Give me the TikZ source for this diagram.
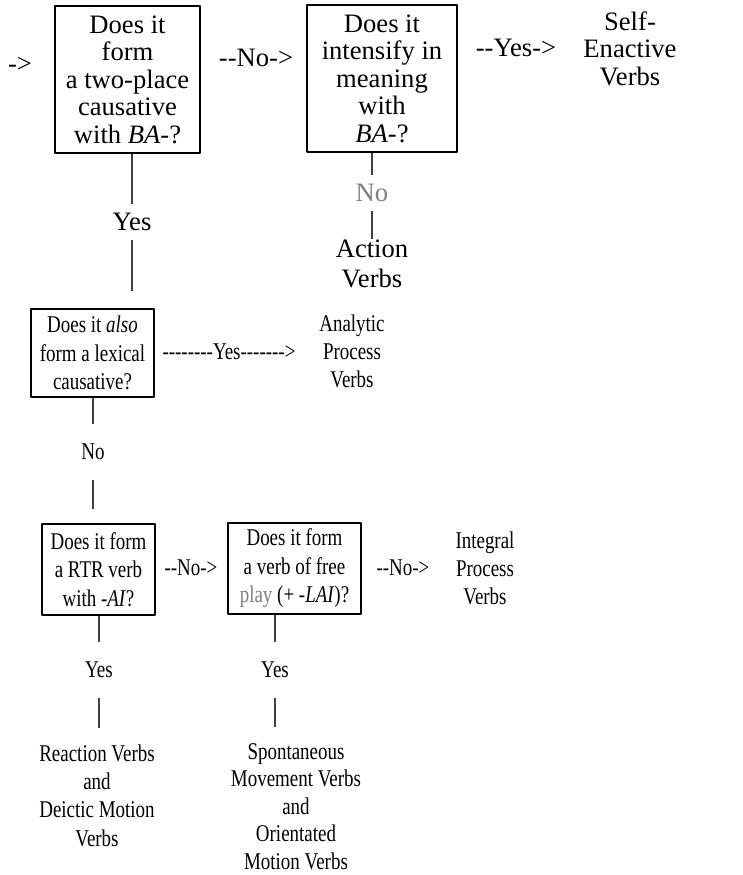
\documentclass[tikz,border=0pt]{standalone}
\usepackage{fontspec}
\setmainfont{Liberation Serif}[Ligatures=TeXOff]
\newfontfamily\narrowserif{Liberation Serif}[Ligatures=TeXOff, FakeStretch=0.79]
\definecolor{fadedgray}{gray}{0.5}
\tikzset{
	topfont/.style={font=\fontsize{13.3}{13.75}\selectfont},
	lowfont/.style={font=\narrowserif\fontsize{12}{14.2}\selectfont},
	qbox/.style={draw, line width=1pt, align=center, inner sep=0pt},
	leaf/.style={align=center, inner sep=0pt, anchor=north},
	conn/.style={draw=black!75, line width=0.6pt},
}
\begin{document}
\begin{tikzpicture}[x=0.5pt, y=-0.5pt, line join=round]
	\useasboundingbox (0,0) rectangle (743,875);
	% ====== PHẦN TRÊN ======
	\begin{scope}[topfont]
		\node[inner sep=0pt] (entry) at (20,65) {->};
		\node[qbox, minimum width=72.5pt, minimum height=73.5pt] (twoplace) at (127.5,79.5) {Does it\\form\\a two-place\\causative\\with \textit{BA}-?};
		\node[inner sep=0pt] (noA) at (256,58) {--No->};
		\node[qbox, minimum width=75pt, minimum height=73.5pt] (intensify) at (382,78.5) {Does it\\intensify in\\meaning\\with\\\textit{BA}-?};
		\node[inner sep=0pt] (yesB) at (516,48) {--Yes->};
		\node[leaf] (selfenact) at (630,11) {Self-\\Enactive\\Verbs};
		
		% nhánh No -> Action Verbs
		\node[inner xsep=0pt, inner ysep=4.3pt, text=fadedgray] (noB) at (372,193) {No};
		\node[leaf, font=\fontsize{13.3}{15}\selectfont] (action) at (372,239) {Action\\Verbs};
		\draw[conn] (intensify.south -| noB) -- (noB);
		\draw[conn] (noB) -- (action.north -| noB);
		
		% nhánh Yes đi xuống
		\node[inner xsep=0pt, inner ysep=4.2pt] (yesA) at (132,222) {Yes};
		\draw[conn] (twoplace.south -| yesA) -- (yesA);
	\end{scope}
	
	% ====== PHẦN DƯỚI (chữ hẹp) ======
	\begin{scope}[lowfont]
		\node[qbox, minimum width=61.5pt, minimum height=44pt] (lexical) at (92.5,353) {Does it \textit{also}\\form a lexical\\causative?};
		\node[inner sep=0pt] (yesC) at (229,352) {--------Yes------->};
		\node[leaf] (analytic) at (352,314) {Analytic\\Process\\Verbs};
		\draw[conn, shorten >=8.5pt] (yesA) -- (lexical.north -| yesA);
		
		\node[inner xsep=0pt, inner ysep=10pt] (noC) at (93,452) {No};
		\draw[conn] (lexical.south -| noC) -- (noC);
		
		\node[qbox, minimum width=56.5pt, minimum height=45.5pt] (rtr) at (98.5,569.5) {Does it form\\a RTR verb\\with -\textit{AI}?};
		\draw[conn, shorten >=7pt] (noC) -- (rtr.north -| noC);
		\node[inner sep=0pt] (noD) at (191,568) {--No->};
		\node[qbox, minimum width=66.5pt, minimum height=45.5pt] (freeplay) at (294.5,568.5) {Does it form\\a verb of free\\\textcolor{fadedgray}{play} (+ -\textit{LAI})?};
		\node[inner sep=0pt] (noE) at (403,568) {--No->};
		\node[leaf] (integral) at (485,531) {Integral\\Process\\Verbs};
		
		% hai nhánh Yes cuối
		\node[inner xsep=0pt, inner ysep=10pt] (yesD) at (99,670) {Yes};
		\node[inner xsep=0pt, inner ysep=10pt] (yesE) at (275,670) {Yes};
		\node[leaf] (reaction) at (97,744) {Reaction Verbs\\and\\Deictic Motion\\Verbs};
		\node[leaf, font=\narrowserif\fontsize{12}{13.75}\selectfont] (spont) at (296,743) {Spontaneous\\Movement Verbs\\and\\Orientated\\Motion Verbs};
		\draw[conn] (rtr.south -| yesD) -- (yesD);
		\draw[conn, shorten >=8pt] (yesD) -- (reaction.north -| yesD);
		\draw[conn] (freeplay.south -| yesE) -- (yesE);
		\draw[conn, shorten >=8pt] (yesE) -- (spont.north -| yesE);
	\end{scope}
\end{tikzpicture}
\end{document}
